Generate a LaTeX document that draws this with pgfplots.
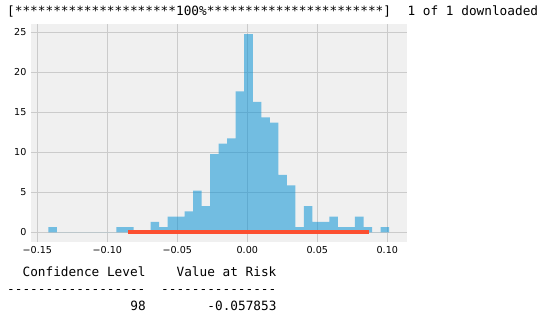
\documentclass[border=0pt]{standalone}
\usepackage{fontspec}
\setmainfont{DejaVu Sans}
\setmonofont{DejaVu Sans Mono}
\usepackage{pgfplots}
\pgfplotsset{compat=1.18}
\definecolor{bgc}{HTML}{F0F0F0}
\definecolor{gridc}{HTML}{CBCBCB}
\definecolor{barc}{HTML}{008FD5}
\definecolor{redc}{HTML}{FC4F30}
\begin{document}
\begin{tikzpicture}
\path[use as bounding box] (0,0) rectangle (559bp,321bp);
\begin{axis}[
  at={(30.6bp,78.8bp)}, anchor=south west,
  width=376bp, height=218.1bp, scale only axis,
  xmin=-0.1548, xmax=0.1138, ymin=-1.24, ymax=26.02,
  axis background/.style={fill=bgc},
  axis line style={draw=none},
  major tick length=0pt,
  xtick={-0.15,-0.10,-0.05,0,0.05,0.10},
  xticklabels={−0.15,−0.10,−0.05,0.00,0.05,0.10},
  ytick={0,5,10,15,20,25},
  yticklabels={0,5,10,15,20,25},
  grid=major,
  major grid style={color=gridc, line width=1bp},
  xticklabel style={font=\fontsize{9.6}{11}\selectfont, inner sep=0pt, anchor=north, yshift=-4bp},
  yticklabel style={font=\fontsize{9.6}{11}\selectfont, inner sep=0pt, anchor=east, xshift=-4bp},
  clip=true,
]
\addplot[ybar interval, fill=barc, fill opacity=0.52, draw=none, mark=none] coordinates {
(-0.14214,0.652) (-0.13606,0) (-0.12997,0) (-0.12389,0) (-0.11780,0)
(-0.11172,0) (-0.10563,0) (-0.09954,0) (-0.09346,0.652) (-0.08737,0.652)
(-0.08129,0) (-0.07520,0) (-0.06912,1.304) (-0.06303,0.652) (-0.05695,1.956)
(-0.05086,1.956) (-0.04478,2.608) (-0.03869,5.217) (-0.03261,3.261) (-0.02652,9.782)
(-0.02044,11.086) (-0.01435,11.738) (-0.00827,17.607) (-0.00218,24.780) (0.00390,16.303)
(0.00999,14.346) (0.01607,13.694) (0.02216,7.173) (0.02824,5.869) (0.03433,0.652)
(0.04041,3.261) (0.04650,1.304) (0.05258,1.304) (0.05867,1.956) (0.06475,0.652)
(0.07084,0.652) (0.07692,1.956) (0.08301,0.652) (0.08909,0) (0.09518,0.652)
(0.10126,0)
};
\addplot[color=redc, line width=4bp, line cap=rect, mark=none] coordinates {(-0.0840,0) (0.0857,0)};
\end{axis}
\begin{scope}[every node/.style={inner sep=0pt, anchor=base west, font=\ttfamily\fontsize{12.8}{15}\selectfont}]
\node at (7bp,305bp) {[*********************100\%***********************]};
\node at (407.4bp,305bp) {1 of 1 downloaded};
\node at (22.4bp,44.3bp) {Confidence Level};
\node at (176.4bp,44.3bp) {Value at Risk};
\node at (7bp,27.3bp) {\char`\-\char`\-\char`\-\char`\-\char`\-\char`\-\char`\-\char`\-\char`\-\char`\-\char`\-\char`\-\char`\-\char`\-\char`\-\char`\-\char`\-\char`\-};
\node at (161bp,27.3bp) {\char`\-\char`\-\char`\-\char`\-\char`\-\char`\-\char`\-\char`\-\char`\-\char`\-\char`\-\char`\-\char`\-\char`\-\char`\-};
\node at (130.2bp,10.3bp) {98};
\node at (207.2bp,10.3bp) {-0.057853};
\end{scope}
\end{tikzpicture}
\end{document}
